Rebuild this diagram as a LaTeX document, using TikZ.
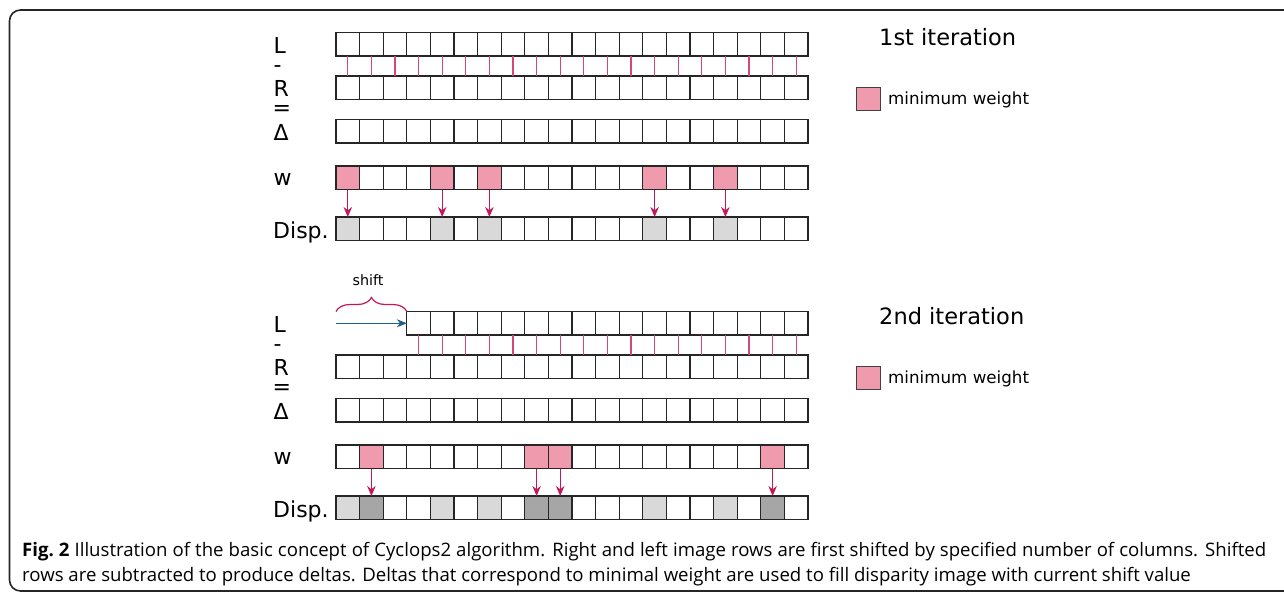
\documentclass[tikz,border=0pt]{standalone}
\usepackage{fontspec}
\setmainfont{DejaVu Sans}
\newfontfamily\capfont{Open Sans}
\usetikzlibrary{decorations.pathreplacing,arrows.meta}
\definecolor{wpink}{HTML}{F09AAE}
\definecolor{crim}{HTML}{C2185B}
\definecolor{linkc}{HTML}{D3477A}
\definecolor{lgray}{HTML}{D9D9D9}
\definecolor{dgray}{HTML}{A6A6A6}
\definecolor{sblue}{HTML}{1F5F8B}
\begin{document}
\begin{tikzpicture}[x=1pt,y=-1pt,
 cell/.style={draw=black!85, line width=1.2pt, minimum width=23.6pt, minimum height=23.5pt, inner sep=0pt, outer sep=0pt, anchor=north west},
 mincell/.style={cell, fill=wpink},
 oldcell/.style={cell, fill=lgray},
 newcell/.style={cell, fill=dgray},
 rowlab/.style={inner sep=0pt, anchor=base west, font=\fontsize{22}{26}\selectfont},
 ititle/.style={inner sep=0pt, anchor=base west, font=\fontsize{22.5}{27}\selectfont},
 legtext/.style={inner sep=0pt, anchor=base west, font=\fontsize{16.7}{20}\selectfont},
 legbox/.style={draw=black!75, line width=1pt, fill=wpink, minimum width=24pt, minimum height=23pt, inner sep=0pt, anchor=north west},
 link/.style={draw=linkc, line width=1.1pt},
 warrow/.style={draw=crim, line width=1.1pt, -{Stealth[length=10pt,width=8.5pt]}},
 sarrow/.style={draw=sblue, line width=1.1pt, -{Stealth[length=10pt,width=8pt]}},
 bracestyle/.style={draw=crim, line width=1.2pt, decorate, decoration={brace, amplitude=14pt}},
 frame/.style={draw=black!85, line width=1.6pt, rounded corners=11pt},
 captext/.style={inner sep=0pt, anchor=base west, font=\capfont\fontsize{18.6}{22}\selectfont}
]
\useasboundingbox (0,0) rectangle (1284,592);
\path[frame] (1300,10) -- (9.5,10) -- (9.5,591) -- (1300,591);

% ---------- 1st iteration ----------
\foreach \r/\y in {L1/32.5, R1/76, D1/119.5, W1/166, P1/217}{
  \foreach \i in {0,...,19}{
    \node[cell] (\r-\i) at ({336+\i*23.6}, \y) {};
  }
}
\foreach \i in {0,4,6,13,16}{
  \node[mincell] (W1-\i) at ({336+\i*23.6}, 166) {};
  \node[oldcell] (P1-\i) at ({336+\i*23.6}, 217) {};
}
\foreach \i in {0,...,19}{
  \draw[link] (L1-\i.south) -- (R1-\i.north);
}
\foreach \i in {0,4,6,13,16}{
  \draw[warrow] (W1-\i.south) -- (P1-\i.north);
}
\node[rowlab] (lL1) at (273.5,53.3) {L};
\node[rowlab] (lm1) at (273.5,72.5) {-};
\node[rowlab] (lR1) at (273.5,96.7) {R};
\node[rowlab] (le1) at (272.5,115) {=};
\node[rowlab] (lD1) at (273.5,140) {Δ};
\node[rowlab] (lW1) at (273.5,185) {w};
\node[rowlab] (lP1) at (273,238) {Disp.};
\node[ititle] (t1) at (879,45) {1st iteration};
\node[legbox] (lb1) at (856,87) {};
\node[legtext] (lt1) at (888,104) {minimum weight};

% ---------- 2nd iteration ----------
\foreach \r/\y in {R2/355, D2/398.5, W2/445, P2/496}{
  \foreach \i in {0,...,19}{
    \node[cell] (\r-\i) at ({336+\i*23.6}, \y) {};
  }
}
\foreach \i in {3,...,19}{
  \node[cell] (L2-\i) at ({336+\i*23.6}, 311.5) {};
}
\foreach \i in {0,4,6,13,16}{
  \node[oldcell] (P2-\i) at ({336+\i*23.6}, 496) {};
}
\foreach \i in {1,8,9,18}{
  \node[mincell] (W2-\i) at ({336+\i*23.6}, 445) {};
  \node[newcell] (P2-\i) at ({336+\i*23.6}, 496) {};
}
\foreach \i in {3,...,19}{
  \draw[link] (L2-\i.south) -- (R2-\i.north);
}
\foreach \i in {1,8,9,18}{
  \draw[warrow] (W2-\i.south) -- (P2-\i.north);
}
\coordinate (s0) at (R2-0.west |- L2-3.west);
\draw[sarrow] (s0) -- (L2-3.west);
\draw[bracestyle] (R2-0.west |- L2-3.north) -- (L2-3.north west);
\node[inner sep=0pt, font=\fontsize{14.3}{17}\selectfont] (shift) at (368,280) {shift};

\node[rowlab] (lL2) at (273.5,332.3) {L};
\node[rowlab] (lm2) at (273.5,351.5) {-};
\node[rowlab] (lR2) at (273.5,375.7) {R};
\node[rowlab] (le2) at (272.5,394) {=};
\node[rowlab] (lD2) at (273.5,419) {Δ};
\node[rowlab] (lW2) at (273.5,464) {w};
\node[rowlab] (lP2) at (273,517) {Disp.};
\node[ititle] (t2) at (879,324) {2nd iteration};
\node[legbox] (lb2) at (856,366) {};
\node[legtext] (lt2) at (888,383) {minimum weight};

% ---------- caption ----------
\node[captext] (cap1) at (22,556) {\makebox[1244pt][s]{\textbf{Fig.~2} Illustration of the basic concept of Cyclops2 algorithm. Right and left image rows are first shifted by specified number of columns. Shifted}};
\node[captext] (cap2) at (22,581) {rows are subtracted to produce deltas. Deltas that correspond to minimal weight are used to fill disparity image with current shift value};
\end{tikzpicture}
\end{document}
